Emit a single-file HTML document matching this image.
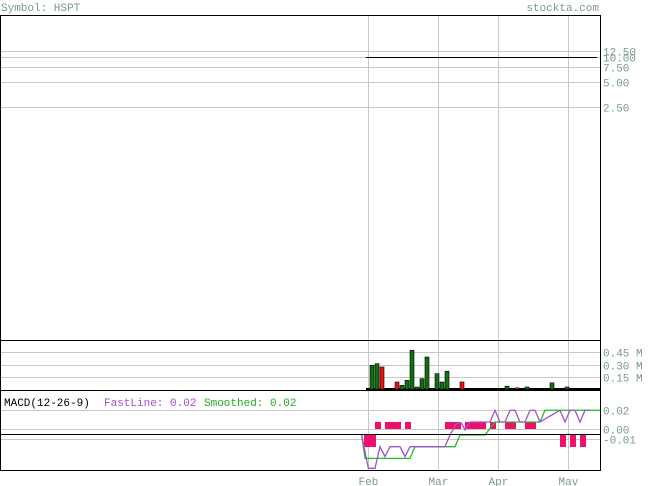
<!DOCTYPE html>
<html><head><meta charset="utf-8"><style>
body{margin:0;background:#fff;width:655px;height:486px;overflow:hidden}
svg{display:block;font-family:"Liberation Mono",monospace}
</style></head><body>
<svg id="c" width="655" height="486">
<text x="1" y="11" font-size="11" fill="#7a9a8a">Symbol: HSPT</text>
<text x="599" y="11" font-size="11" fill="#7a9a8a" text-anchor="end">stockta.com</text>
<g id="grid"></g>
<g id="marks"></g>
<rect x="0.5" y="15.5" width="600" height="455" fill="none" stroke="#000"/>
<line x1="0" y1="340.5" x2="600" y2="340.5" stroke="#000"/>
<line x1="0" y1="390.5" x2="600" y2="390.5" stroke="#000"/>
<line x1="0" y1="434.5" x2="600" y2="434.5" stroke="#000"/>
<text x="4" y="406" font-size="11" fill="#000">MACD(12-26-9)</text>
<text x="104" y="406" font-size="11" fill="#a050d0">FastLine: 0.02</text>
<text x="204" y="406" font-size="11" fill="#20b020">Smoothed: 0.02</text>
</svg>
<script>
const monthLabels=["Feb","Mar","Apr","May"];
const monthIdx=[-0.8,13.2,25.2,39.2];
const priceTicks=[12.5,10,7.5,5,2.5];
const priceTickLabels=["12.50","10.00","7.50","5.00","2.50"];
const priceStart=-1.2, priceEnd=45, priceValue=10;
const volTicks=[0.45,0.30,0.15];
const volIdx=[0,1,2,5,6,7,8,9,10,11,13,14,15,18,27,29,31,36,39];
const volVals=[0.29,0.31,0.27,0.09,0.05,0.11,0.47,0.03,0.13,0.39,0.19,0.09,0.22,0.09,0.04,0.02,0.03,0.08,0.03];
const volUp=[1,1,0,0,1,1,1,1,1,1,1,1,1,0,1,0,1,1,1];
const macdTicks=[0.02,0,-0.01];
const macdTickLabels=["0.02","0.00","-0.01"];
const histStart=[-1.6,0.6,2.6,6.6,14.6,18.6,23.6,26.6,30.6,37.6,39.6,41.6];
const histEnd=[0.8,1.8,5.8,7.8,17.8,22.8,24.8,28.8,32.8,38.8,40.8,42.8];
const histVals=[-0.0137,0.0074,0.0074,0.0074,0.0074,0.0074,0.0074,0.0074,0.0074,-0.0137,-0.0137,-0.0137];
const fastIdx=[-2.07,-0.73,0.6,1.6,2.6,3.6,5.6,6.6,7.6,14.6,15.6,16.9,17.9,18.6,19.6,23.6,24.6,25.6,26.6,27.6,28.6,29.6,30.6,31.6,32.6,33.6,37.6,38.6,39.6,40.6,41.6,42.6,43.6];
const fastVals=[-0.0063,-0.0414,-0.0414,-0.0186,-0.029,-0.0186,-0.0186,-0.029,-0.0186,-0.0186,-0.0063,0.006,0.006,-0.001,0.0074,0.0074,0.0197,0.0074,0.0074,0.0197,0.0197,0.0074,0.0074,0.0197,0.0197,0.0074,0.0197,0.0074,0.0197,0.0197,0.0074,0.0197,0.0197];
const slowIdx=[-2.07,-1.4,7.6,8.6,16.6,17.6,22.6,24.6,33.6,34.6,45.6];
const slowVals=[-0.0063,-0.0309,-0.0309,-0.0186,-0.0186,-0.0063,-0.0063,0.0074,0.0074,0.0197,0.0197];

const NS="http://www.w3.org/2000/svg";
const X=i=>372+5*i;
const PY=v=>107-(v-2.5)*10-(v>5?(v-5)*-0:0);
function priceY(v){const m=[[2.5,107],[5,82],[7.5,67],[10,57],[12.5,51]];for(let k=0;k<m.length-1;k++){if(v<=m[k+1][0]){const[a,ya]=m[k],[b,yb]=m[k+1];return ya+(v-a)/(b-a)*(yb-ya);}}return 51;}
const VY=v=>389.5-v*83.3;
const MY=v=>429-v*950;
const grid=document.getElementById('grid'),marks=document.getElementById('marks');
function el(t,a,p){const e=document.createElementNS(NS,t);for(const k in a)e.setAttribute(k,a[k]);p.appendChild(e);return e;}
monthLabels.forEach((m,i)=>{
 const x=Math.round(X(monthIdx[i]))+0.5;
 const l=el('line',{x1:x,y1:15,x2:x,y2:470,stroke:'#c8c8c8'},grid);
 
 
 const t=el('text',{x:x-10,y:485,'font-size':11,fill:'#7a9a8a'},grid);t.textContent=m;
 
 
});
priceTicks.forEach((v,i)=>{
 const y=Math.round(priceY(v))+0.5;
 const l=el('line',{x1:0,y1:y,x2:600,y2:y,stroke:'#c8c8c8'},grid);
 
 
 const t=el('text',{x:603,y:y+4,'font-size':11,fill:'#7a9a8a'},grid);t.textContent=priceTickLabels[i];
 
 
});
volTicks.forEach(v=>{
 const y=Math.round(VY(v))+0.5;
 const l=el('line',{x1:0,y1:y,x2:600,y2:y,stroke:'#c8c8c8'},grid);
 
 
 const t=el('text',{x:603,y:y+4,'font-size':11,fill:'#7a9a8a'},grid);t.textContent=v.toFixed(2)+' M';
 
 
});
macdTicks.forEach((v,i)=>{
 const y=Math.round(MY(v))+0.5;
 const l=el('line',{x1:0,y1:y,x2:600,y2:y,stroke:'#c8c8c8'},grid);
 
 
 const t=el('text',{x:603,y:y+4,'font-size':11,fill:'#7a9a8a'},grid);t.textContent=macdTickLabels[i];
 
 
});
const py=Math.round(priceY(priceValue))+0.5;
const pl=el('line',{x1:X(priceStart),y1:py,x2:X(priceEnd),y2:py,stroke:'#000'},marks);


const bl=el('line',{x1:X(priceStart),y1:389,x2:600,y2:389,stroke:'#000','stroke-width':2},marks);


volIdx.forEach((d,i)=>{
 const y=VY(volVals[i]);
 const r=el('rect',{x:X(d)-2,y:y,width:4,height:389.5-y,fill:volUp[i]?'#107010':'#ee1010',stroke:'#000','stroke-width':0.6},marks);
 
 
});
histStart.forEach((s,i)=>{
 const v=histVals[i];const y0=v>=0?MY(v):434;const h=v>=0?429-MY(v):-v*950;
 const r=el('rect',{x:X(s),y:y0,width:X(histEnd[i])-X(s),height:h,fill:'#f0106a'},marks);
 
 
});
const slow=el('polyline',{points:slowIdx.map((d,i)=>X(d)+','+MY(slowVals[i])).join(' '),fill:'none',stroke:'#20c020','stroke-width':1.3},marks);


const fast=el('polyline',{points:fastIdx.map((d,i)=>X(d)+','+MY(fastVals[i])).join(' '),fill:'none',stroke:'#a050d0','stroke-width':1.3},marks);


</script>
</body></html>
